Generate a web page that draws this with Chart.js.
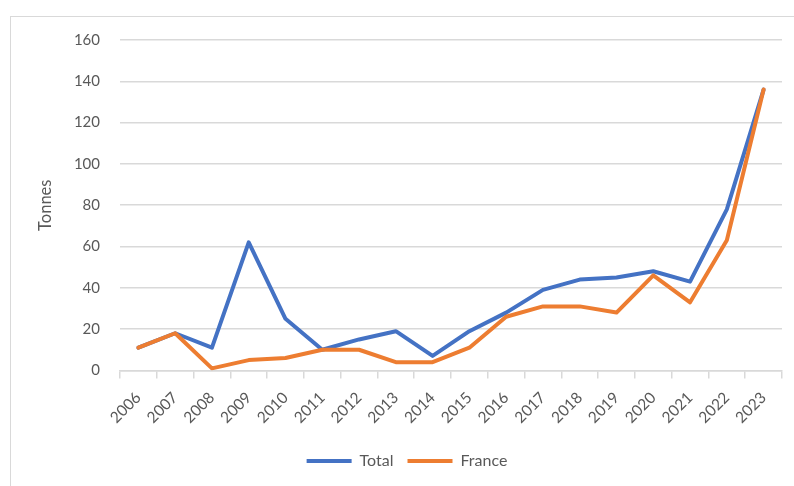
<!DOCTYPE html>
<html>
<head>
<meta charset="utf-8">
<script src="https://cdn.jsdelivr.net/npm/chart.js@4.4.1/dist/chart.umd.min.js"></script>
<style>
  html, body { margin: 0; padding: 0; background: #fff; width: 794px; height: 486px; overflow: hidden; }
  #frame { position: absolute; left: 10px; top: 16px; width: 800px; height: 480px; border: 1.5px solid #d9d9d9; box-sizing: border-box; }
  #wrap { position: absolute; left: 0; top: 0; width: 794px; height: 486px; }
</style>
</head>
<body>
<div id="frame"></div>
<div id="wrap"><canvas id="c" width="794" height="486"></canvas></div>
<script>
const years = ["2006","2007","2008","2009","2010","2011","2012","2013","2014","2015","2016","2017","2018","2019","2020","2021","2022","2023"];
const totalValues  = [11, 18, 11, 62, 25, 10, 15, 19, 7, 19, 28, 39, 44, 45, 48, 43, 78, 136];
const franceValues = [11, 18, 1, 5, 6, 10, 10, 4, 4, 11, 26, 31, 31, 28, 46, 33, 63, 136];
const yTicks = [0, 20, 40, 60, 80, 100, 120, 140, 160];

const FONT = "Lato, 'Open Sans', 'Liberation Sans', sans-serif";
const GREY = '#595959';
const GRID = '#d9d9d9';

new Chart(document.getElementById('c'), {
  type: 'line',
  data: {
    labels: years,
    datasets: [
      { label: 'Total', data: totalValues, borderColor: '#4472C4', backgroundColor: '#4472C4',
        borderWidth: 4, pointRadius: 0, tension: 0, borderCapStyle: 'round', borderJoinStyle: 'round', order: 2 },
      { label: 'France', data: franceValues, borderColor: '#ED7D31', backgroundColor: '#ED7D31',
        borderWidth: 4, pointRadius: 0, tension: 0, borderCapStyle: 'round', borderJoinStyle: 'round', order: 1 }
    ]
  },
  options: {
    responsive: false,
    animation: false,
    devicePixelRatio: 1,
    layout: { padding: { left: 32, top: 40, right: 12, bottom: 7 } },
    plugins: {
      legend: {
        position: 'bottom',
        labels: {
          font: { family: FONT, size: 16 },
          color: GREY,
          boxWidth: 45,
          boxHeight: 4,
          padding: 14,
          sort: (a, b) => a.datasetIndex - b.datasetIndex,
          generateLabels: (chart) => chart.data.datasets.map((ds, i) => ({
            text: ds.label, fillStyle: ds.borderColor, strokeStyle: ds.borderColor,
            lineWidth: 0, hidden: false, datasetIndex: i, fontColor: GREY
          }))
        }
      },
      tooltip: { enabled: false }
    },
    scales: {
      x: {
        offset: true,
        afterFit: (s) => { s.height = s.height + 2; },
        grid: { offset: true, drawOnChartArea: false, drawTicks: true, tickLength: 8, color: GRID, lineWidth: 1.5 },
        border: { display: true, color: GRID, width: 1.5 },
        ticks: { font: { family: FONT, size: 15.5 }, color: GREY, minRotation: 45, maxRotation: 45, padding: 10, autoSkip: false }
      },
      y: {
        min: 0, max: 160,
        afterBuildTicks: (s) => { s.ticks = yTicks.map(v => ({ value: v })); },
        afterFit: (s) => { s.width = 88; },
        grid: { drawTicks: false, color: GRID, lineWidth: 1.5 },
        border: { display: false },
        ticks: { font: { family: FONT, size: 15 }, color: GREY, padding: 20 },
        title: { display: true, text: 'Tonnes', font: { family: FONT, size: 16.5 }, color: GREY, padding: { top: 4, bottom: 4 } }
      }
    }
  }
});
</script>
</body>
</html>
